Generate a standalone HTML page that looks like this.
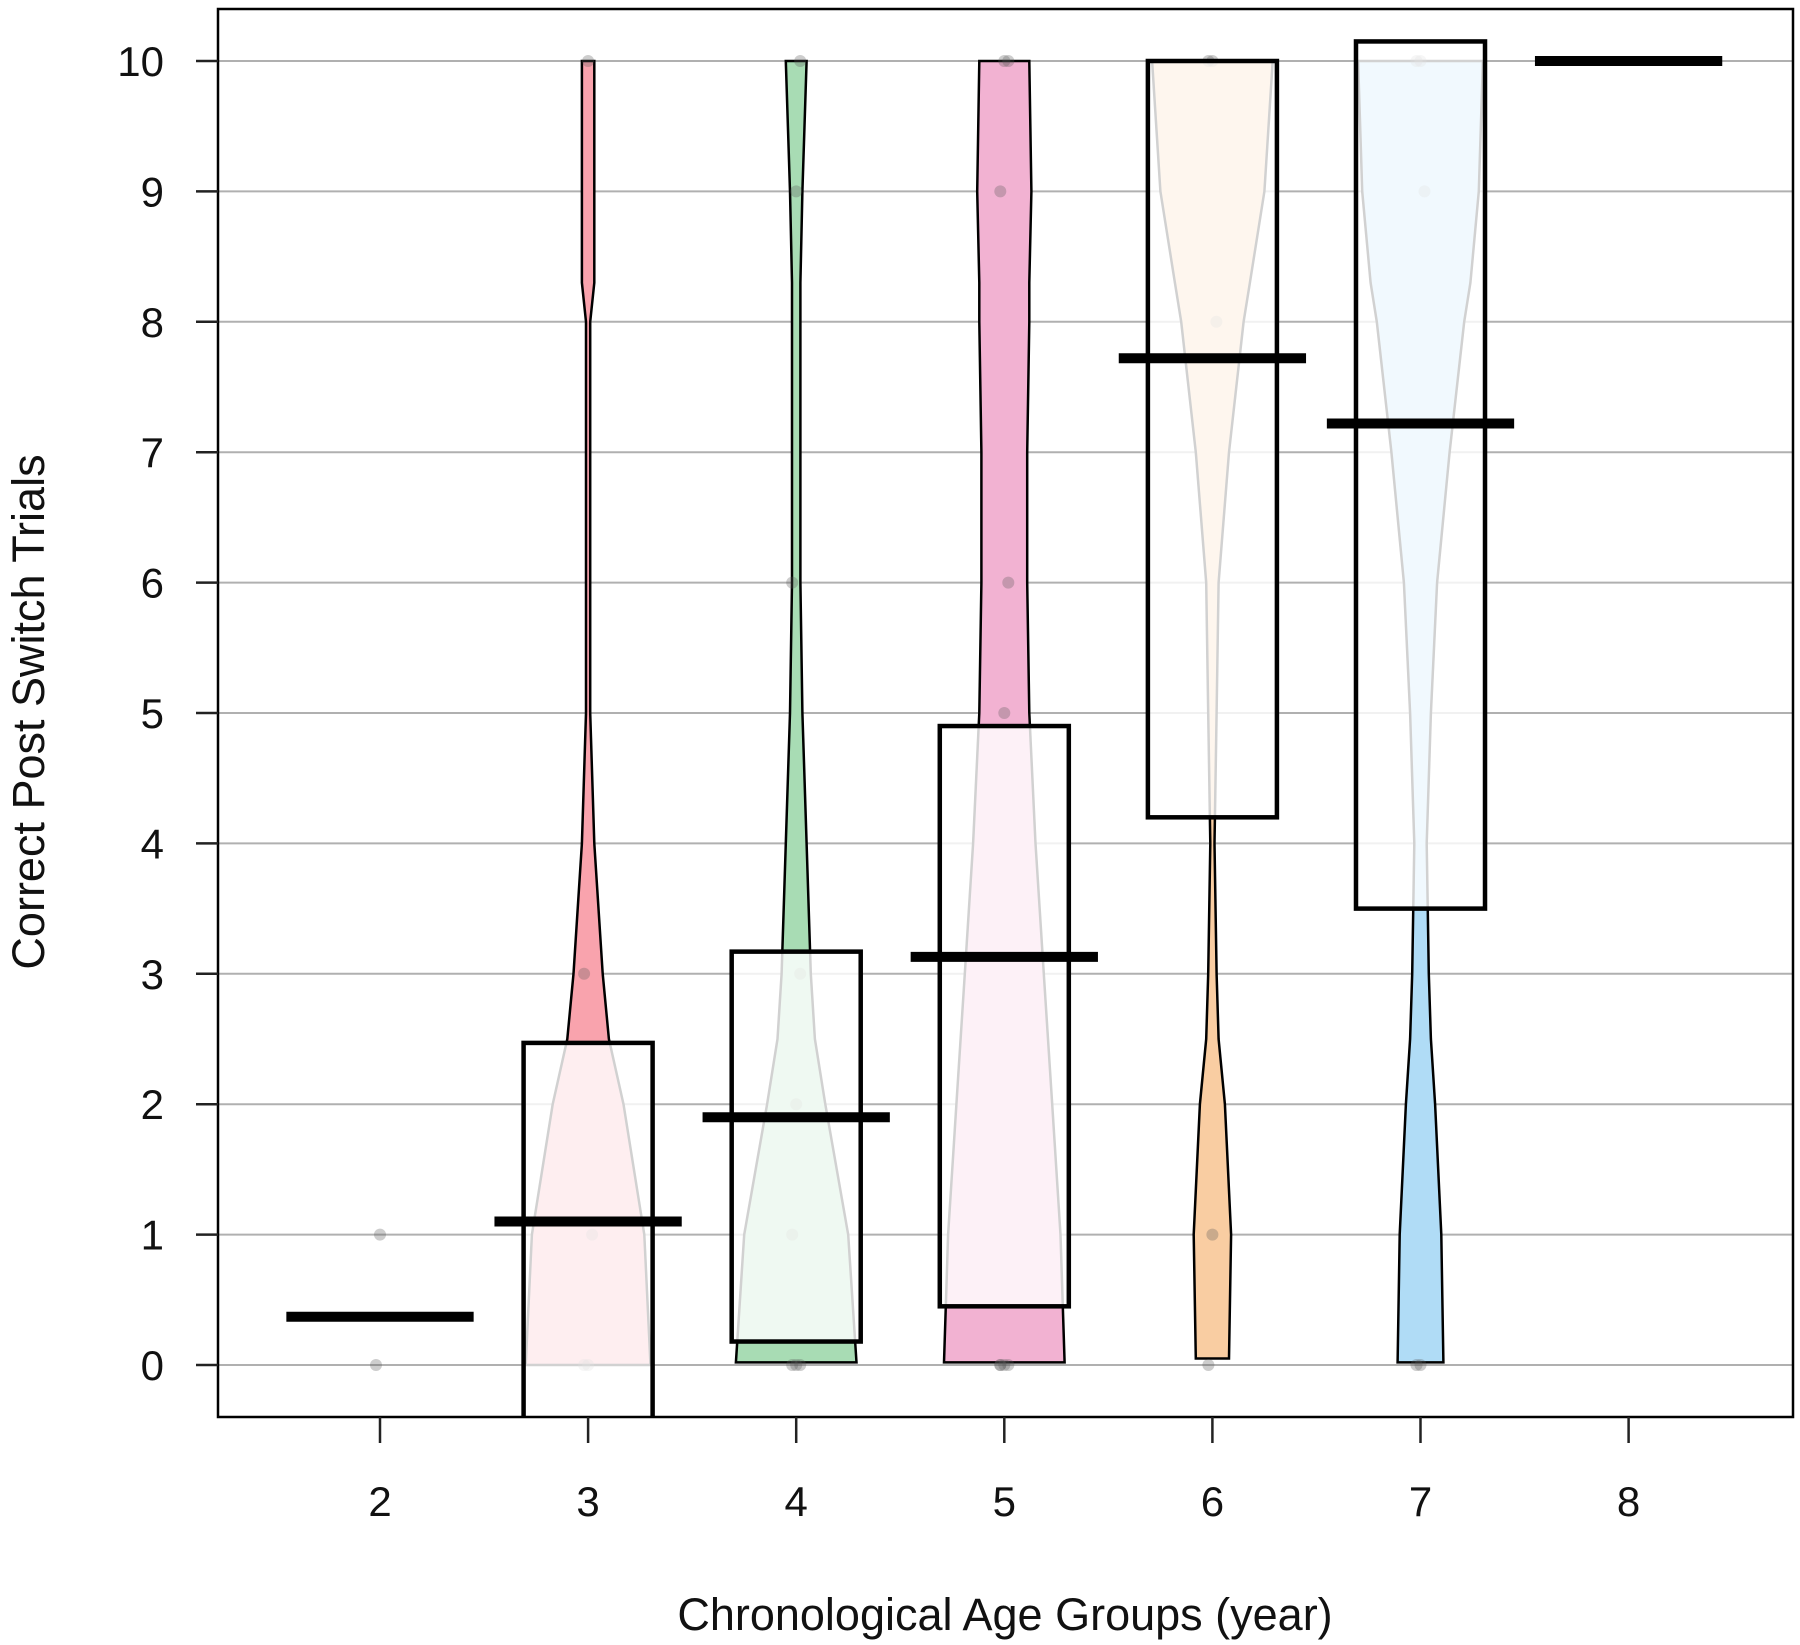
<!DOCTYPE html>
<html><head><meta charset="utf-8"><style>
html,body{margin:0;padding:0;background:#fff;}
svg{display:block;font-family:"Liberation Sans",Arial,sans-serif;}
</style></head><body>
<svg id="chart" width="1800" height="1645" viewBox="0 0 1800 1645">
<defs><clipPath id="pc"><rect x="218" y="9" width="1575" height="1408"/></clipPath></defs>
<g id="grid"></g>
<g id="marks" clip-path="url(#pc)"></g>
<rect x="218" y="9" width="1575" height="1408" fill="none" stroke="#000" stroke-width="2.5"/>
<g id="axes"></g>
<text x="1005" y="1630" font-size="45" text-anchor="middle" fill="#111">Chronological Age Groups (year)</text>
<text x="0" y="0" font-size="45" text-anchor="middle" fill="#111" transform="translate(44,712) rotate(-90)">Correct Post Switch Trials</text>
</svg>
<script>
const categories = ["2","3","4","5","6","7","8"];
const means = [0.37, 1.1, 1.9, 3.13, 7.72, 7.22, 10];
const boxLow = [null, -0.5, 0.18, 0.45, 4.2, 3.5, null];
const boxHigh = [null, 2.47, 3.17, 4.9, 10.0, 10.15, null];
const beanMin = [null, 0, 0.02, 0.02, 0.05, 0.02, null];
const beanMax = [null, 10, 10, 10, 10, 10, null];
const beanLevels = [0,1,2,2.5,3,4,5,6,7,8,8.3,9,10];
const beanG3 = [0.30,0.27,0.17,0.10,0.07,0.03,0.01,0.01,0.01,0.01,0.03,0.03,0.03];
const beanG4 = [0.29,0.25,0.14,0.09,0.07,0.05,0.03,0.02,0.02,0.02,0.02,0.03,0.05];
const beanG5 = [0.29,0.27,0.23,0.21,0.19,0.15,0.12,0.11,0.11,0.12,0.12,0.13,0.12];
const beanG6 = [0.08,0.09,0.06,0.03,0.02,0.01,0.02,0.03,0.08,0.15,0.18,0.25,0.29];
const beanG7 = [0.11,0.10,0.07,0.05,0.04,0.03,0.05,0.08,0.14,0.21,0.24,0.28,0.30];
const beans = [null, beanG3, beanG4, beanG5, beanG6, beanG7, null];
const beanColors = [null,"#f9a3ad","#a8dcb4","#f2b2d2","#f9cda2","#b0dcf6"];
const pointsY = [[0,1],[0,0,1,3,10],[0,0,0,1,2,3,6,9,10],[0,0,0,0,5,6,9,10,10],[0,1,8,10,10],[0,0,9,10,10],[]];
const yTicks = [0,1,2,3,4,5,6,7,8,9,10];

const NS="http://www.w3.org/2000/svg";
const xs = i => 380 + i*208.1;
const ys = v => 1365 - v*130.4;
const unit = 208.1;
function mk(tag, attrs, parent){const e=document.createElementNS(NS,tag);for(const k in attrs)e.setAttribute(k,attrs[k]);parent.appendChild(e);return e;}
const grid=document.getElementById('grid'), marks=document.getElementById('marks'), axes=document.getElementById('axes');

yTicks.forEach(t=>{
  const g=mk('line',{x1:218,x2:1793,y1:ys(t),y2:ys(t),stroke:'#b0b0b0','stroke-width':2},grid);
  
  
  const tk=mk('line',{x1:196,x2:218,y1:ys(t),y2:ys(t),stroke:'#222','stroke-width':2.5},axes);
  
  
  const lb=mk('text',{x:164,y:ys(t)+15,'font-size':42,'text-anchor':'end',fill:'#111'},axes);
  lb.textContent=t;
  
  
});
categories.forEach((c,i)=>{
  const tk=mk('line',{x1:xs(i),x2:xs(i),y1:1417,y2:1443,stroke:'#222','stroke-width':2.5},axes);
  
  
  const lb=mk('text',{x:xs(i),y:1516,'font-size':42,'text-anchor':'middle',fill:'#111'},axes);
  lb.textContent=c;
  
  
});

categories.forEach((c,i)=>{
  const cx=xs(i);
  const g=mk('g',{},marks);
  
  
  if(beans[i]){
    const w=beans[i];
    const lo=beanMin[i], hi=beanMax[i];
    const lv=beanLevels.map(v=>Math.min(Math.max(v,lo),hi));
    let right=lv.map((v,k)=>[cx+w[k]*unit, ys(v)]);
    let left=lv.map((v,k)=>[cx-w[k]*unit, ys(v)]).reverse();
    const pts=right.concat(left).map(p=>p[0].toFixed(1)+','+p[1].toFixed(1)).join(' ');
    const b=mk('polygon',{points:pts,fill:beanColors[i],stroke:'#000','stroke-width':2.5},g);
    
    
  }
  (pointsY[i]||[]).forEach((v,k)=>{
    const p=mk('circle',{cx:cx+((k%3)-1)*4,cy:ys(v),r:6,fill:'rgba(90,90,90,0.3)'},g);
    
    
  });
  if(boxLow[i]!==null){
    const bx=mk('rect',{x:cx-0.31*unit,y:ys(boxHigh[i]),width:0.62*unit,height:ys(boxLow[i])-ys(boxHigh[i]),fill:'rgba(255,255,255,0.82)',stroke:'#000','stroke-width':4.5},g);
    
    
  }
  const m=mk('line',{x1:cx-0.45*unit,x2:cx+0.45*unit,y1:ys(means[i]),y2:ys(means[i]),stroke:'#000','stroke-width':10},g);
  
  
});
</script>
</body></html>
